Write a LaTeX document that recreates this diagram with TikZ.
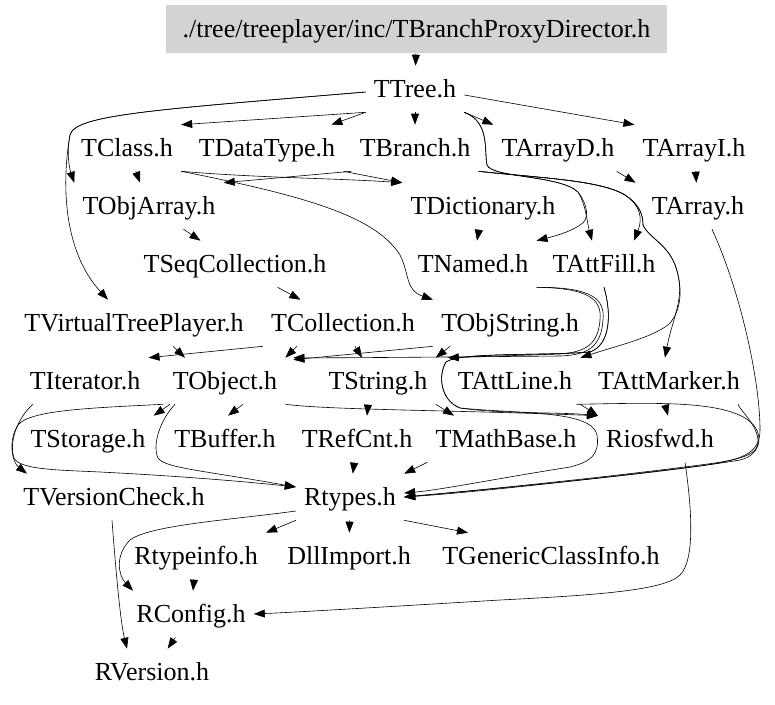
\documentclass[tikz,border=0pt]{standalone}
\usepackage{fontspec}
\setmainfont{Liberation Serif}
\usetikzlibrary{arrows.meta,positioning}
\definecolor{rootgray}{RGB}{211,211,211}
\tikzstyle{hdr}=[inner xsep=8pt,inner ysep=11pt,text height=20pt,text depth=4pt,font=\fontsize{26}{28}\selectfont]
\tikzstyle{root}=[hdr,fill=rootgray,minimum width=501pt,minimum height=48pt,inner ysep=0pt]

\begin{document}
\begin{tikzpicture}[x=1pt,y=-1pt,->,>={Triangle[length=11pt,width=8pt]},line width=0.6pt]
  \useasboundingbox (0,0) rectangle (775,704);

  \node[root] (Root) at (416.5,29) {./tree/treeplayer/inc/TBranchProxyDirector.h};
  \node[hdr] (TTree) at (415,89) {TTree.h};
  \node[hdr] (TClass) at (127,148) {TClass.h};
  \node[hdr] (TDataType) at (267,148) {TDataType.h};
  \node[hdr] (TBranch) at (415,148) {TBranch.h};
  \node[hdr] (TArrayD) at (558,148) {TArrayD.h};
  \node[hdr] (TArrayI) at (694,148) {TArrayI.h};
  \node[hdr] (TObjArray) at (149,206) {TObjArray.h};
  \node[hdr] (TDictionary) at (483,206) {TDictionary.h};
  \node[hdr] (TArray) at (698,206) {TArray.h};
  \node[hdr] (TSeqCollection) at (235,264) {TSeqCollection.h};
  \node[hdr] (TNamed) at (473,264) {TNamed.h};
  \node[hdr] (TAttFill) at (604,264) {TAttFill.h};
  \node[hdr] (TVirtualTreePlayer) at (134,323) {TVirtualTreePlayer.h};
  \node[hdr] (TCollection) at (343,323) {TCollection.h};
  \node[hdr] (TObjString) at (510,323) {TObjString.h};
  \node[hdr] (TIterator) at (85,381) {TIterator.h};
  \node[hdr] (TObject) at (225,381) {TObject.h};
  \node[hdr] (TString) at (378,381) {TString.h};
  \node[hdr] (TAttLine) at (515,381) {TAttLine.h};
  \node[hdr] (TAttMarker) at (669,381) {TAttMarker.h};
  \node[hdr] (TStorage) at (88,439) {TStorage.h};
  \node[hdr] (TBuffer) at (225,439) {TBuffer.h};
  \node[hdr] (TRefCnt) at (357,439) {TRefCnt.h};
  \node[hdr] (TMathBase) at (506,439) {TMathBase.h};
  \node[hdr] (Riosfwd) at (660,439) {Riosfwd.h};
  \node[hdr] (TVersionCheck) at (114,497) {TVersionCheck.h};
  \node[hdr] (Rtypes) at (350,497) {Rtypes.h};
  \node[hdr] (Rtypeinfo) at (196,556) {Rtypeinfo.h};
  \node[hdr] (DllImport) at (349,556) {DllImport.h};
  \node[hdr] (TGenericClassInfo) at (551,556) {TGenericClassInfo.h};
  \node[hdr] (RConfig) at (191,614) {RConfig.h};
  \node[hdr] (RVersion) at (152,672) {RVersion.h};

  % straight edges
  \path (Root) edge (TTree)
        (TTree.south west) edge (TClass.north east)
        (TTree.south west) edge ([xshift=-12pt]TDataType.north east)
        (TTree) edge (TBranch)
        (TTree.south east) edge (TArrayD.north west)
        ([yshift=-6pt]TTree.east) edge (TArrayI.north west)
        (TClass) edge (TObjArray)
        (TDataType.south east) edge (TDictionary.north west)
        (TBranch.south west) edge (TObjArray.north east)
        ([xshift=-6pt]TArrayD.south east) edge ([xshift=-8pt]TArray.north west)
        (TArrayI) edge (TArray)
        (TObjArray) edge (TSeqCollection)
        (TDictionary) edge (TNamed)
        (TSeqCollection) edge (TCollection)
        ([xshift=39pt]TVirtualTreePlayer.south) edge ([xshift=-40pt]TObject.north)
        (TCollection.south west) edge (TIterator.north east)
        ([xshift=-46pt]TCollection.south) edge (TObject.north east)
        ([xshift=12pt]TCollection.south) edge ([xshift=-16pt]TString.north)
        (TObjString.south west) edge ([xshift=8pt,yshift=-2pt]TObject.north east)
        ([xshift=-60pt]TObjString.south) edge (TString.north east)
        ([xshift=-55pt]TObject.south) edge (TStorage.north east)
        ([xshift=18pt]TObject.south) edge ([xshift=3pt]TBuffer.north)
        ([xshift=-10pt]TString.south) edge ([xshift=10pt]TRefCnt.north)
        (TString.south east) edge ([xshift=-52pt]TMathBase.north)
        (TAttLine.south east) edge (Riosfwd.north west)
        ([xshift=-4pt]TAttMarker.south) edge ([xshift=8pt]Riosfwd.north)
        (TRefCnt) edge (Rtypes)
        (TMathBase.south west) edge (Rtypes.north east)
        (Rtypes.south west) edge (Rtypeinfo.north east)
        (Rtypes) edge (DllImport)
        (Rtypes.south east) edge ([xshift=-83pt]TGenericClassInfo.north)
        (Rtypeinfo) edge (RConfig)
        (RConfig) edge (RVersion);

  % curved edges
  \draw ([yshift=-3pt]TTree.west) .. controls (150,110) and (75,115) .. (70,135)
        .. controls (66,155) and (70,170) .. (TObjArray.north west);
  \draw ([yshift=-3pt]TTree.west) .. controls (150,110) and (75,115) .. (70,135)
        .. controls (62,180) and (62,250) .. ([xshift=-26pt]TVirtualTreePlayer.north);
  \draw (TClass.south east) .. controls (260,178) and (330,178) .. (TDictionary.north west);
  \draw (TClass.south east) .. controls (300,195) and (375,215) .. (400,255)
        .. controls (410,275) and (405,290) .. (TObjString.north west);
  \draw (TTree.south east) .. controls (490,122) and (484,150) .. (487,165)
        .. controls (492,178) and (560,175) .. (578,192)
        .. controls (588,205) and (590,220) .. (580,225)
        .. controls (570,232) and (555,236) .. (TNamed.north east);
  \draw (TTree.south east) .. controls (490,122) and (484,150) .. (487,165)
        .. controls (492,178) and (560,175) .. (578,192)
        .. controls (586,205) and (587,222) .. ([xshift=-12pt]TAttFill.north);
  \draw (TBranch.south east) .. controls (540,178) and (600,180) .. (625,195)
        .. controls (640,205) and (643,218) .. ([xshift=30pt]TAttFill.north);
  \draw (TBranch.south east) .. controls (540,178) and (600,180) .. (625,195)
        .. controls (640,205) and (643,215) .. (643,225)
        .. controls (650,240) and (672,245) .. (678,275)
        .. controls (684,300) and (672,320) .. ([xshift=-4pt]TAttMarker.north);
  \draw (TBranch.south east) .. controls (540,178) and (600,180) .. (625,195)
        .. controls (640,205) and (643,215) .. (643,225)
        .. controls (650,240) and (672,245) .. (678,275)
        .. controls (684,300) and (676,318) .. (668,325)
        .. controls (650,338) and (620,345) .. (TAttLine.north east);
  \draw (TNamed.south east) .. controls (590,288) and (602,300) .. (600,320)
        .. controls (598,345) and (585,352) .. (560,354)
        -- ([xshift=12pt]TString.north east);
  \draw (TNamed.south east) .. controls (594,287) and (605,300) .. (603,320)
        .. controls (601,347) and (588,355) .. (560,356)
        .. controls (450,357) and (330,358) .. ([xshift=8pt]TObject.north east);
  \draw (TAttFill.south) .. controls (612,315) and (610,345) .. (590,352)
        .. controls (540,356) and (460,352) .. (446,362)
        .. controls (438,375) and (440,400) .. (460,408)
        .. controls (500,414) and (560,412) .. (Riosfwd.north west);
  \draw (TAttFill.south) .. controls (612,315) and (610,345) .. (590,352)
        .. controls (540,356) and (460,352) .. (446,362)
        .. controls (438,375) and (440,400) .. (460,408)
        .. controls (520,414) and (592,410) .. (597,435)
        .. controls (600,455) and (590,462) .. (570,467)
        .. controls (500,478) and (440,490) .. ([yshift=4pt]Rtypes.east);
  \draw (TObject.south east) .. controls (330,410) and (450,410) .. (Riosfwd.north west);
  \draw ([xshift=-4pt]TAttLine.south east) .. controls (650,403) and (720,400) .. (748,420)
        .. controls (765,432) and (762,455) .. (740,460)
        .. controls (650,475) and (480,490) .. (Rtypes.east);
  \draw ([xshift=69pt]TAttMarker.south) .. controls (740,410) and (757,425) .. (758,440)
        .. controls (760,455) and (740,460) .. (700,465)
        .. controls (600,478) and (480,490) .. (Rtypes.east);
  \draw ([xshift=14pt]TArray.south) .. controls (740,290) and (760,380) .. (760,430)
        .. controls (760,455) and (740,460) .. (700,466)
        .. controls (600,478) and (480,492) .. (Rtypes.east);
  \draw ([xshift=-62pt]TObject.south) .. controls (90,408) and (30,410) .. (18,425)
        .. controls (8,440) and (12,462) .. ([xshift=-87pt]TVersionCheck.north);
  \draw ([xshift=-52pt]TIterator.south) .. controls (20,415) and (8,440) .. (14,458)
        .. controls (20,470) and (60,470) .. (100,472)
        .. controls (180,476) and (250,482) .. ([yshift=10pt]Rtypes.west);
  \draw ([xshift=-50pt]TObject.south) .. controls (160,420) and (152,445) .. (158,458)
        .. controls (165,468) and (200,470) .. ([yshift=10pt]Rtypes.west);
  \draw ([xshift=25pt]Riosfwd.south) .. controls (692,510) and (695,560) .. (680,575)
        .. controls (665,590) and (600,595) .. (500,600)
        .. controls (400,606) and (300,612) .. (RConfig.east);
  \draw ([xshift=-2pt]TVersionCheck.south) .. controls (115,560) and (120,620) .. ([xshift=-25pt]RVersion.north);
  \draw ([yshift=-14pt]Rtypes.west) .. controls (230,520) and (150,525) .. (130,540)
        .. controls (115,555) and (118,575) .. ([xshift=-58pt]RConfig.north);
\end{tikzpicture}
\end{document}
